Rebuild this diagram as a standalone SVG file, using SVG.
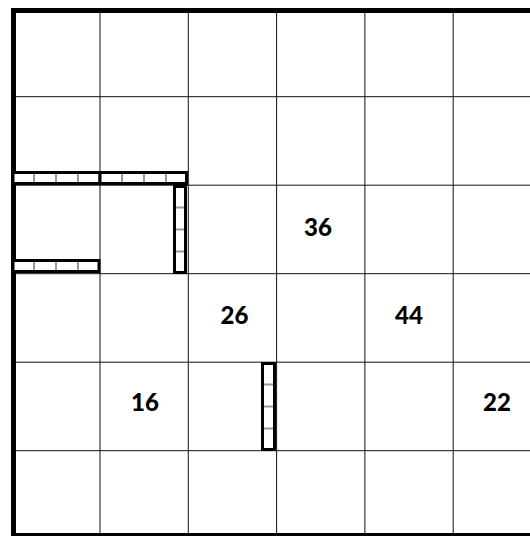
<svg xmlns="http://www.w3.org/2000/svg" width="530" height="536" viewBox="0 0 530 536">
<style>
.grid{stroke:#111;stroke-width:1;fill:none}
.frame{stroke:#000;stroke-width:5;fill:none}
.wall{stroke:#000;stroke-width:3;fill:#fff}
.tick{stroke:#999;stroke-width:2}
.num{font-family:Lato,"Liberation Sans",sans-serif;font-weight:900;font-size:24px;fill:#000;text-anchor:middle}
</style>
<rect width="530" height="536" fill="#fff"/>
<g id="grid">
<path class="grid" d="M100,10V536M188.3,10V536M276.6,10V536M364.9,10V536M453.2,10V536M12,96.7H530M12,185.2H530M12,273.7H530M12,362.2H530M12,450.7H530"/>
</g>
<g id="frame"><rect class="frame" x="13.5" y="10.5" width="530" height="525"/></g>
<g id="wall-top-1">
<rect class="wall" x="13" y="172.5" width="87" height="11"/>
<path class="tick" d="M34,174V182M56,174V182M78,174V182"/>
</g>
<g id="wall-top-2">
<rect class="wall" x="100" y="172.5" width="86.5" height="11"/>
<path class="tick" d="M122,174V182M144,174V182M166,174V182"/>
</g>
<g id="wall-vert-1">
<rect class="wall" x="174.5" y="186.5" width="11" height="86"/>
<path class="tick" d="M176,207.5H184M176,229.5H184M176,251.5H184"/>
</g>
<g id="wall-left">
<rect class="wall" x="13" y="260.5" width="86" height="11"/>
<path class="tick" d="M34,262V270M56,262V270M78,262V270"/>
</g>
<g id="wall-vert-2">
<rect class="wall" x="262.5" y="363.5" width="12" height="86"/>
<path class="tick" d="M264,384.5H273M264,406.5H273M264,428.5H273"/>
</g>
<g id="labels">
<text class="num" x="318" y="236">36</text>
<text class="num" x="234.5" y="324">26</text>
<text class="num" x="409" y="324">44</text>
<text class="num" x="145" y="411">16</text>
<text class="num" x="497" y="411">22</text>
</g>
</svg>
